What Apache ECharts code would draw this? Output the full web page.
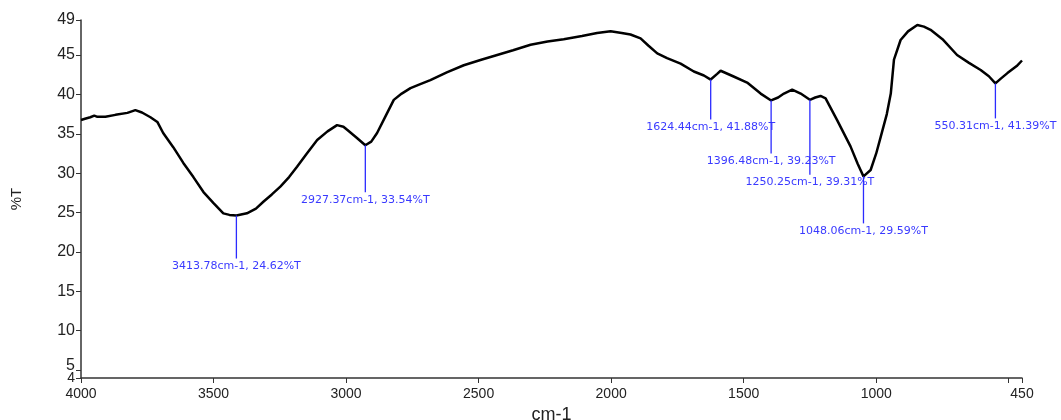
<!DOCTYPE html>
<html>
<head>
<meta charset="utf-8">
<script src="https://cdn.jsdelivr.net/npm/echarts@6/dist/echarts.min.js"></script>
<style>html,body{margin:0;padding:0;background:#fff}#c{width:1061px;height:420px}</style>
</head>
<body>
<div id="c"></div>
<script>
// Spectrum (wavenumber cm-1, %T)
const wavenumbers = [4000,3985,3965,3950,3938,3908,3870,3825,3795,3770,3738,3712,3690,3652,3614,3576,3538,3500,3463,3440,3413.78,3374,3340,3311,3280,3248,3215,3185,3150,3109,3070,3034,3010,2996,2960,2927.37,2905,2883,2850,2820,2790,2757,2720,2682,2620,2556,2490,2430,2370,2304,2240,2179,2110,2053,2002,1960,1927,1889,1860,1826,1789,1738,1688,1650,1624.44,1600,1587,1540,1487,1436,1396.48,1370,1348,1317,1285,1250.25,1230,1210,1191,1147,1097,1070,1048.06,1021,1000,983,960,945,933,908,880,845,820,795,750,695,650,606,575,550.31,530,505,470,450];
const transmittance = [36.75,36.9,37.1,37.3,37.15,37.15,37.4,37.65,38.0,37.7,37.1,36.5,35.1,33.3,31.3,29.5,27.6,26.2,24.9,24.7,24.62,24.9,25.5,26.4,27.3,28.3,29.5,30.8,32.4,34.2,35.3,36.1,35.9,35.5,34.5,33.54,34.0,35.1,37.3,39.3,40.1,40.8,41.3,41.8,42.8,43.7,44.4,45.0,45.6,46.3,46.7,47.0,47.4,47.8,48.0,47.8,47.6,47.1,46.2,45.2,44.6,43.9,42.9,42.4,41.88,42.6,43.0,42.3,41.5,40.1,39.23,39.6,40.1,40.6,40.1,39.31,39.6,39.8,39.5,36.7,33.4,31.2,29.59,30.4,32.5,34.6,37.5,40.1,44.4,46.9,48.0,48.8,48.6,48.2,47.0,45.0,44.0,43.1,42.3,41.39,42.0,42.7,43.6,44.3];

// Peak annotations
const peakWavenumbers = [3413.78, 2927.37, 1624.44, 1396.48, 1250.25, 1048.06, 550.31];
const peakTransmittance = [24.62, 33.54, 41.88, 39.23, 39.31, 29.59, 41.39];

// Axis ticks / labels
const xTicks = [4000,3500,3000,2500,2000,1500,1000,500,450];
const xTickLabels = [4000,3500,3000,2500,2000,1500,1000,450];
const yTicks = [4,5,10,15,20,25,30,35,40,45,49.44];
const yTickLabelsMain = [10,15,20,25,30,35,40,45,49.44];
const yTickLabelFive = [5];
const yTickLabelFour = [4];
const yTickText = ['4','5','10','15','20','25','30','35','40','45','49'];

// layout: pixel drop of each annotation stem
const labelDrop = [43, 47, 40, 53, 75, 47, 35];

const chart = echarts.init(document.getElementById('c'), null, {renderer: 'canvas'});
const axisColor = '#333';
const yFmt = v => {
  const k = yTicks.findIndex(t => Math.abs(t - v) < 1e-6);
  return k >= 0 ? yTickText[k] : String(Math.round(v));
};
const yLabelBase = {margin: 6, fontFamily: 'Liberation Sans', fontSize: 16, color: '#222',
  showMinLabel: true, showMaxLabel: true, hideOverlap: false, formatter: yFmt};
const extraAxis = (vals, extra) => ({
  type: 'value', min: 4, max: 49.44, position: 'left', offset: 0,
  axisLine: {show: false}, axisTick: {show: false}, splitLine: {show: false},
  axisLabel: Object.assign({customValues: vals}, yLabelBase, extra)
});
chart.setOption({
  animation: false,
  backgroundColor: '#fff',
  grid: {left: 81, right: 39, top: 20, bottom: 42, outerBoundsMode: 'none', containLabel: false},
  xAxis: {
    type: 'value', inverse: true, min: 450, max: 4000,
    name: 'cm-1', nameLocation: 'middle', nameGap: 21,
    nameTextStyle: {fontFamily: 'Liberation Sans', fontSize: 18, color: '#222'},
    axisLine: {show: true, onZero: false, lineStyle: {color: axisColor, width: 1.5}},
    axisTick: {show: true, length: 5, customValues: xTicks, lineStyle: {color: axisColor, width: 1}},
    axisLabel: {customValues: xTickLabels, margin: 9, fontFamily: 'Liberation Sans', fontSize: 14, color: '#222',
      showMinLabel: true, showMaxLabel: true, hideOverlap: false,
      formatter: v => String(v)},
    splitLine: {show: false}
  },
  yAxis: [{
    type: 'value', min: 4, max: 49.44, position: 'left',
    name: '%T', nameLocation: 'middle', nameGap: 57, nameRotate: 90,
    nameTextStyle: {fontFamily: 'Liberation Sans', fontSize: 15, color: '#222'},
    axisLine: {show: true, lineStyle: {color: axisColor, width: 1.5}},
    axisTick: {show: true, length: 5, customValues: yTicks, lineStyle: {color: axisColor, width: 1}},
    axisLabel: Object.assign({customValues: yTickLabelsMain}, yLabelBase),
    splitLine: {show: false}
  },
  extraAxis(yTickLabelFive, {verticalAlign: 'bottom', lineHeight: 10}),
  extraAxis(yTickLabelFour, {fontSize: 14})
  ],
  series: [
    {
      type: 'line', data: wavenumbers.map((w, i) => [w, transmittance[i]]),
      showSymbol: false, symbol: 'none', smooth: false,
      lineStyle: {color: '#000', width: 2.5}, z: 3
    },
    {
      type: 'custom', z: 4,
      data: peakWavenumbers.map((w, i) => [w, peakTransmittance[i], i]),
      renderItem: function (params, api) {
        const w = api.value(0), t = api.value(1), i = api.value(2);
        const p = api.coord([w, t]);
        const d = labelDrop[i];
        return {
          type: 'group',
          children: [
            {type: 'line', shape: {x1: p[0], y1: p[1], x2: p[0], y2: p[1] + d},
              style: {stroke: '#2b2bff', lineWidth: 1.3}},
            {type: 'text', x: p[0], y: p[1] + d + 2,
              style: {text: w.toFixed(2) + 'cm-1, ' + t.toFixed(2) + '%T', fill: '#3a3aff',
                font: '11px "DejaVu Sans"', align: 'center', verticalAlign: 'top'}}
          ]
        };
      }
    }
  ]
});
</script>
</body>
</html>
